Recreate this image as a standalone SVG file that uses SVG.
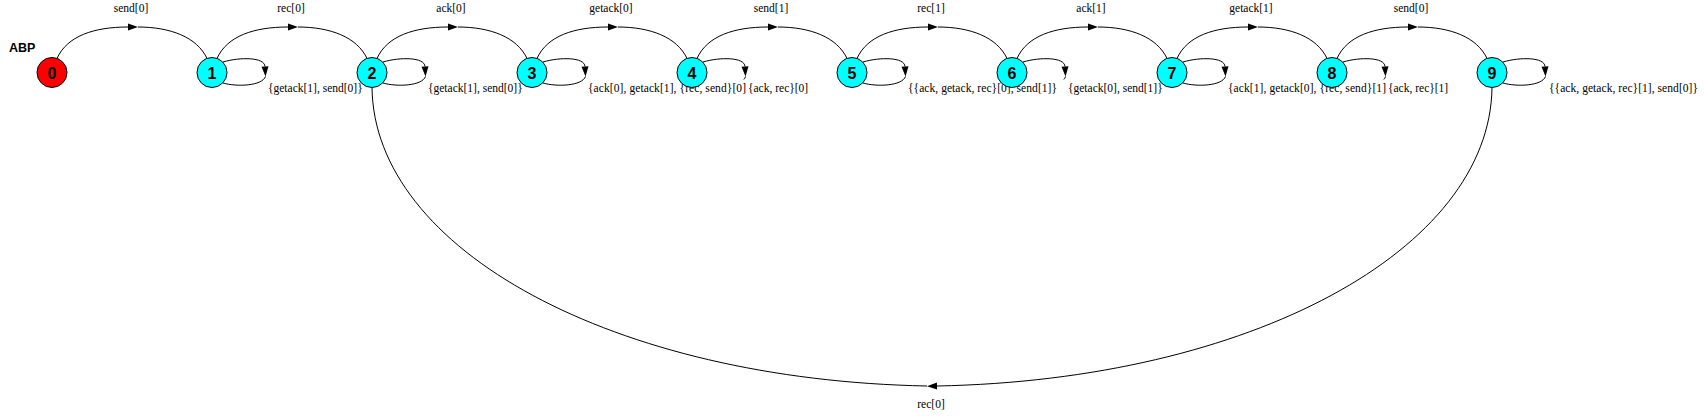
<svg xmlns="http://www.w3.org/2000/svg" width="1705" height="416" viewBox="0 0 1705 416">
<style>
.e{fill:none;stroke:#000;stroke-width:1}
.a{marker-end:url(#ah)}
.t{font-family:"Liberation Serif","Times New Roman",serif;font-size:11.5px;fill:#000}
.c{text-anchor:middle}
.n circle{stroke:#000;stroke-width:1;fill:#00ffff}
.n text{font-family:"Liberation Sans",Arial,sans-serif;font-weight:bold;font-size:16px;text-anchor:middle;fill:#000}
</style>
<defs>
<marker id="ah" markerUnits="userSpaceOnUse" markerWidth="10" markerHeight="7" refX="0" refY="3.5" orient="auto" overflow="visible">
<path d="M0,0 L10,3.5 L0,7 Z" fill="#000"/>
</marker>
</defs>
<rect width="1705" height="416" fill="#fff"/>
<text x="9" y="51.5" font-family="Liberation Sans,Arial,sans-serif" font-weight="bold" font-size="12.5">ABP</text>
<g id="connectors">
<path class="e a" d="M57,58.5 C67,36 94,27 128,27"/><path class="e" d="M138,27 C170,27 197,37 207,58.5"/>
<path class="e a" d="M217,58.5 C227,36 254,27 288,27"/><path class="e" d="M298,27 C330,27 357,37 367,58.5"/>
<path class="e a" d="M377,58.5 C387,36 414,27 448,27"/><path class="e" d="M458,27 C490,27 517,37 527,58.5"/>
<path class="e a" d="M537,58.5 C547,36 574,27 608,27"/><path class="e" d="M618,27 C650,27 677,37 687,58.5"/>
<path class="e a" d="M697,58.5 C707,36 734,27 768,27"/><path class="e" d="M778,27 C810,27 837,37 847,58.5"/>
<path class="e a" d="M857,58.5 C867,36 894,27 928,27"/><path class="e" d="M938,27 C970,27 997,37 1007,58.5"/>
<path class="e a" d="M1017,58.5 C1027,36 1054,27 1088,27"/><path class="e" d="M1098,27 C1130,27 1157,37 1167,58.5"/>
<path class="e a" d="M1177,58.5 C1187,36 1214,27 1248,27"/><path class="e" d="M1258,27 C1290,27 1317,37 1327,58.5"/>
<path class="e a" d="M1337,58.5 C1347,36 1374,27 1408,27"/><path class="e" d="M1418,27 C1450,27 1477,37 1487,58.5"/>
<path class="e a" d="M223,62 C240,57 264.5,57 265,66.5"/><path class="e" d="M265.5,76.5 C262,86 237,87 223,83"/>
<path class="e a" d="M383,62 C400,57 424.5,57 425,66.5"/><path class="e" d="M425.5,76.5 C422,86 397,87 383,83"/>
<path class="e a" d="M543,62 C560,57 584.5,57 585,66.5"/><path class="e" d="M585.5,76.5 C582,86 557,87 543,83"/>
<path class="e a" d="M703,62 C720,57 744.5,57 745,66.5"/><path class="e" d="M745.5,76.5 Q745,78.5 743.8,79.5"/>
<path class="e a" d="M863,62 C880,57 904.5,57 905,66.5"/><path class="e" d="M905.5,76.5 C902,86 877,87 863,83"/>
<path class="e a" d="M1023,62 C1040,57 1064.5,57 1065,66.5"/><path class="e" d="M1065.5,76.5 Q1065,78.5 1063.8,79.5"/>
<path class="e a" d="M1183,62 C1200,57 1224.5,57 1225,66.5"/><path class="e" d="M1225.5,76.5 C1222,86 1197,87 1183,83"/>
<path class="e a" d="M1343,62 C1360,57 1384.5,57 1385,66.5"/><path class="e" d="M1385.5,76.5 Q1385,78.5 1383.8,79.5"/>
<path class="e a" d="M1503,62 C1520,57 1544.5,57 1545,66.5"/><path class="e" d="M1545.5,76.5 C1542,86 1517,87 1503,83"/>
<path class="e a" d="M1492,87.5 C1490,250 1250,380 937,386"/><path class="e" d="M927,386 C614,380 374,250 372,87.5"/>
</g>
<g id="edge-labels" class="t">
<text class="c" x="131" y="12">send[0]</text>
<text class="c" x="291" y="12">rec[0]</text>
<text class="c" x="451" y="12">ack[0]</text>
<text class="c" x="611" y="12">getack[0]</text>
<text class="c" x="771" y="12">send[1]</text>
<text class="c" x="931" y="12">rec[1]</text>
<text class="c" x="1091" y="12">ack[1]</text>
<text class="c" x="1251" y="12">getack[1]</text>
<text class="c" x="1411" y="12">send[0]</text>
<text x="268" y="92">{getack[1], send[0]}</text>
<text x="428" y="92">{getack[1], send[0]}</text>
<text x="588" y="92" textLength="158" lengthAdjust="spacing">{ack[0], getack[1], {rec, send}[0]</text>
<text x="748" y="92">{ack, rec}[0]</text>
<text x="908" y="92" textLength="149" lengthAdjust="spacing">{{ack, getack, rec}[0], send[1]}</text>
<text x="1068" y="92">{getack[0], send[1]}</text>
<text x="1228" y="92" textLength="158" lengthAdjust="spacing">{ack[1], getack[0], {rec, send}[1]</text>
<text x="1388" y="92">{ack, rec}[1]</text>
<text x="1549" y="92" textLength="149" lengthAdjust="spacing">{{ack, getack, rec}[1], send[0]}</text>
<text class="c" x="931" y="408">rec[0]</text>
</g>
<g id="node0" class="n"><circle cx="52" cy="72.5" r="15" style="fill:#ff0000"/><text x="52" y="78.5">0</text></g>
<g id="node1" class="n"><circle cx="212" cy="72.5" r="15"/><text x="212" y="78.5">1</text></g>
<g id="node2" class="n"><circle cx="372" cy="72.5" r="15"/><text x="372" y="78.5">2</text></g>
<g id="node3" class="n"><circle cx="532" cy="72.5" r="15"/><text x="532" y="78.5">3</text></g>
<g id="node4" class="n"><circle cx="692" cy="72.5" r="15"/><text x="692" y="78.5">4</text></g>
<g id="node5" class="n"><circle cx="852" cy="72.5" r="15"/><text x="852" y="78.5">5</text></g>
<g id="node6" class="n"><circle cx="1012" cy="72.5" r="15"/><text x="1012" y="78.5">6</text></g>
<g id="node7" class="n"><circle cx="1172" cy="72.5" r="15"/><text x="1172" y="78.5">7</text></g>
<g id="node8" class="n"><circle cx="1332" cy="72.5" r="15"/><text x="1332" y="78.5">8</text></g>
<g id="node9" class="n"><circle cx="1492" cy="72.5" r="15"/><text x="1492" y="78.5">9</text></g>
</svg>
